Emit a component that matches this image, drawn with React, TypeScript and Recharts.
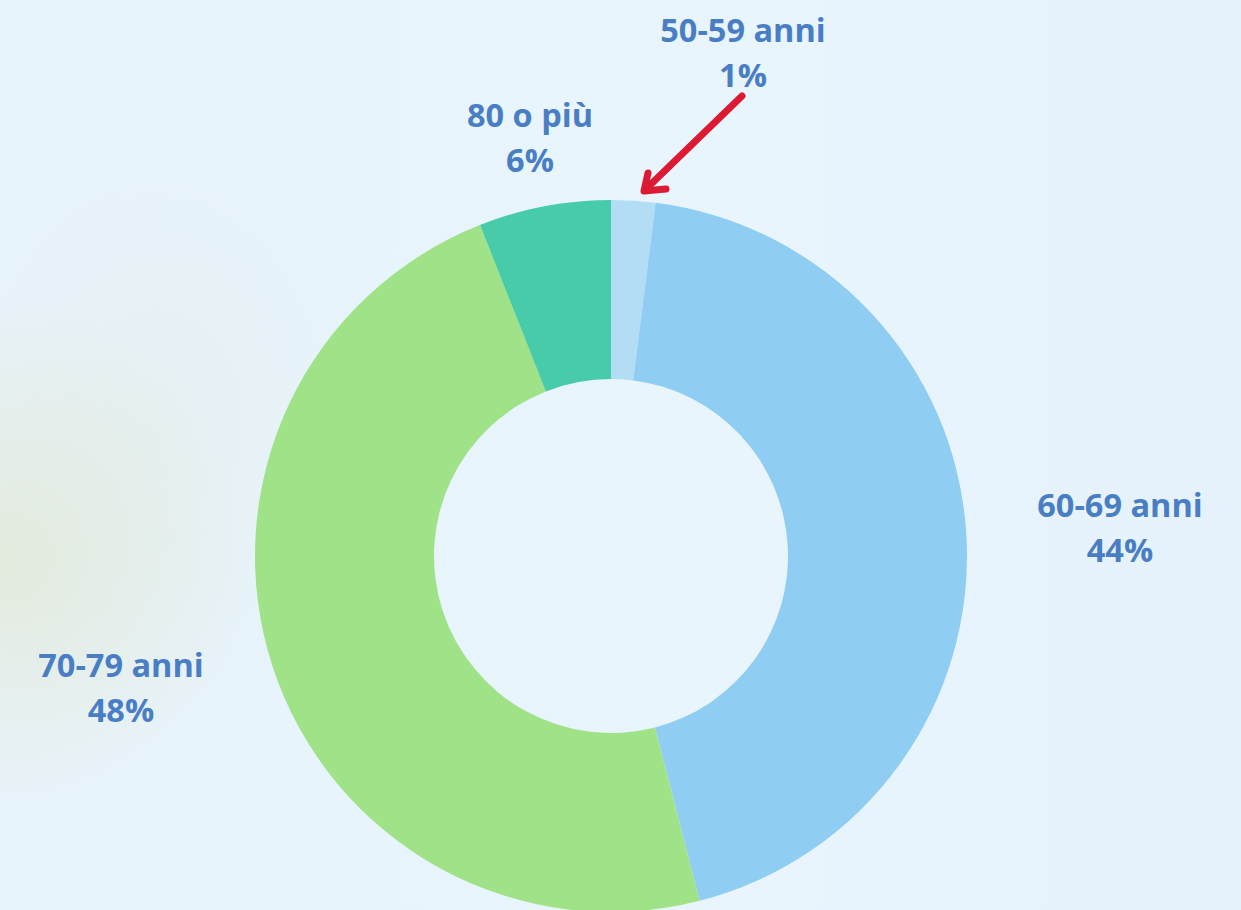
import { Cell, Pie, PieChart } from "recharts";

const AGE_GROUPS = ["50-59 anni", "60-69 anni", "70-79 anni", "80 o più"];
const SHARES = [2, 44, 48, 6];
const SHARE_LABELS = ["1%", "44%", "48%", "6%"];
const COLORS = ["#b3ddf5", "#90cdf2", "#a0e288", "#48cba8"];

// where each label sits (center x, first baseline)
const LABEL_POS = [
  { x: 743, y: 42 },
  { x: 1120, y: 517 },
  { x: 121, y: 677 },
  { x: 530, y: 127 },
];

const data = AGE_GROUPS.map((name, i) => ({
  name,
  value: SHARES[i],
  pct: SHARE_LABELS[i],
}));

const W = 1241;
const H = 910;

function renderLabel(props: any) {
  const i = props.index;
  const pos = LABEL_POS[i];
  return (
    <g key={`lbl-${i}`}>
      <text
        x={pos.x}
        textAnchor="middle"
        fill="#4a7ec4"
        fontFamily="'Open Sans', 'Noto Sans', sans-serif"
        fontWeight={700}
        fontSize={32.5}
      >
        <tspan x={pos.x} y={pos.y}>
          {data[i].name}
        </tspan>
        <tspan x={pos.x} y={pos.y + 45}>
          {data[i].pct}
        </tspan>
      </text>
      {i === 0 && (
        <g stroke="#dc1a33" strokeWidth={7} strokeLinecap="round" fill="none">
          <line x1={742} y1={96} x2={647} y2={188} />
          <polyline points="648,173 644,191 666,189" strokeLinejoin="round" />
        </g>
      )}
    </g>
  );
}

export default function App() {
  return (
    <div
      style={{
        position: "fixed",
        left: 0,
        top: 0,
        width: W,
        height: H,
        overflow: "hidden",
        background:
          "radial-gradient(ellipse 240px 260px at 10px 560px, rgba(226,232,214,0.8), rgba(232,243,248,0) 100%), radial-gradient(ellipse 260px 340px at 160px 420px, rgba(226,236,232,0.45), rgba(232,243,248,0) 100%), linear-gradient(90deg, #e8f4fc 0%, #e8f5fd 60%, #e5f2fb 100%)",
      }}
    >
      <PieChart width={W} height={H} margin={{ top: 0, right: 0, bottom: 0, left: 0 }}>
        <Pie
          data={data}
          dataKey="value"
          nameKey="name"
          cx={611}
          cy={556}
          innerRadius={177}
          outerRadius={356}
          startAngle={90}
          endAngle={-270}
          stroke="none"
          label={renderLabel}
          labelLine={false}
          isAnimationActive={false}
        >
          {data.map((_, i) => (
            <Cell key={i} fill={COLORS[i]} />
          ))}
        </Pie>
      </PieChart>
    </div>
  );
}
